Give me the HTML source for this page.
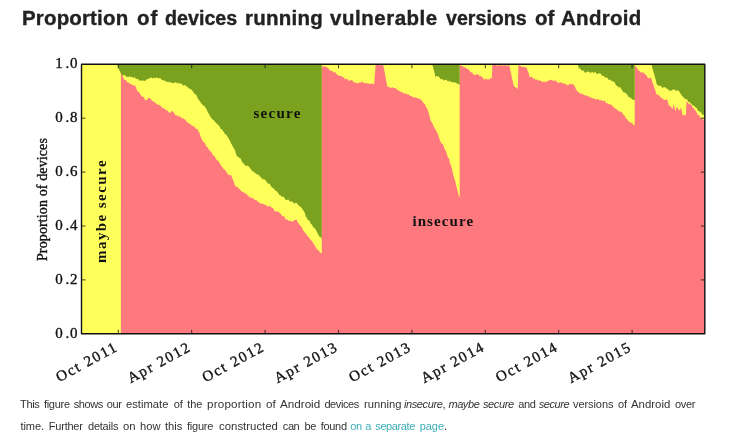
<!DOCTYPE html>
<html><head><meta charset="utf-8"><title>Proportion of devices running vulnerable versions of Android</title>
<style>
html,body{margin:0;padding:0;background:#fff;}
body{width:735px;height:433px;position:relative;overflow:hidden;font-family:"Liberation Sans",sans-serif;color:#222;}
h1{position:absolute;left:0;top:5.5px;margin:0;font-size:19.5px;-webkit-text-stroke:0.35px #222;line-height:24px;height:24px;width:735px;font-weight:bold;white-space:nowrap;color:#222;}
h1 span,p span{position:absolute;top:0;white-space:nowrap;transform-origin:0 0;}
p{position:absolute;left:0;margin:0;font-size:11px;line-height:21.5px;height:21.5px;width:735px;color:#333;white-space:nowrap;}
p.a{top:393.6px;} p.b{top:415.6px;}
p a{color:#3badb7;text-decoration:none;}
</style></head><body>
<h1><span style="left:21.6px;letter-spacing:0.16px;transform:scaleX(1.050)">Proportion</span> <span style="left:136.8px;letter-spacing:1.03px;transform:scaleX(1.050)">of</span> <span style="left:164.7px;letter-spacing:0.00px;transform:scaleX(1.010)">devices</span> <span style="left:244.5px;letter-spacing:0.25px;transform:scaleX(1.050)">running</span> <span style="left:329.8px;letter-spacing:0.51px;transform:scaleX(1.050)">vulnerable</span> <span style="left:445.5px;letter-spacing:0.00px;transform:scaleX(1.007)">versions</span> <span style="left:535.3px;letter-spacing:0.08px;transform:scaleX(1.050)">of</span> <span style="left:560.7px;letter-spacing:0.30px;transform:scaleX(1.050)">Android</span></h1>
<svg width="735" height="433" viewBox="0 0 735 433" style="position:absolute;left:0;top:0">
<rect x="81.5" y="64.3" width="623.3" height="269.5" fill="#ffff5c"/>
<path d="M120.9 333.8 L120.9 71.8 L122.2 75.1 L123.6 78.4 L124.7 80.3 L125.9 80.0 L127.0 81.9 L128.1 82.4 L129.3 82.7 L130.4 84.5 L131.6 84.1 L132.8 85.4 L134.0 85.2 L135.2 85.8 L136.3 88.5 L137.5 91.3 L138.6 91.9 L139.7 93.1 L140.8 94.9 L141.8 96.5 L142.9 96.7 L144.0 97.3 L145.1 100.2 L146.1 100.0 L147.1 100.2 L148.1 97.7 L149.2 98.1 L150.3 98.7 L151.4 99.8 L152.5 101.5 L153.6 101.0 L154.7 102.6 L155.8 103.5 L156.8 103.7 L157.9 104.9 L159.0 104.7 L160.1 105.4 L161.2 106.4 L162.3 108.0 L163.4 108.2 L164.5 108.6 L165.6 109.9 L166.7 110.3 L167.8 110.7 L168.9 112.4 L170.0 112.9 L171.3 111.3 L172.7 111.2 L174.1 112.9 L175.4 115.3 L176.5 115.5 L177.6 115.2 L178.6 117.1 L179.7 115.9 L180.8 117.0 L182.0 118.5 L183.2 118.0 L184.2 119.4 L185.2 119.3 L186.2 121.3 L187.2 122.3 L188.3 122.7 L189.3 124.0 L190.3 123.7 L191.3 125.2 L192.3 125.7 L193.3 126.3 L194.4 126.8 L195.4 128.2 L196.4 129.1 L197.4 128.8 L198.4 131.5 L199.4 132.6 L200.5 136.2 L201.5 138.4 L202.5 140.8 L203.6 142.1 L204.6 142.8 L205.6 144.7 L206.7 146.9 L207.7 147.3 L208.7 149.5 L209.7 150.2 L210.7 151.4 L211.8 152.5 L212.8 155.2 L213.8 155.2 L214.8 156.7 L215.8 158.3 L216.9 160.5 L217.9 160.3 L219.0 162.3 L220.0 163.8 L221.1 165.8 L222.6 167.5 L224.0 169.4 L225.0 169.7 L226.0 171.4 L227.0 172.7 L228.1 174.6 L229.2 175.5 L230.2 174.7 L231.3 175.6 L232.3 178.2 L233.4 180.8 L234.4 183.8 L235.4 186.6 L236.4 186.6 L237.4 186.8 L238.5 188.4 L239.5 189.0 L240.5 190.1 L241.5 191.6 L242.5 191.8 L243.6 192.2 L244.6 193.1 L245.6 194.0 L246.6 193.4 L247.6 195.8 L248.7 196.3 L249.7 197.2 L250.7 197.7 L251.7 197.6 L252.7 198.4 L253.8 198.5 L254.8 200.3 L255.8 199.8 L256.8 200.6 L257.9 201.7 L258.9 202.3 L259.9 203.5 L260.9 203.2 L261.9 203.4 L263.0 204.0 L264.0 204.2 L265.0 205.0 L266.0 204.7 L267.0 206.6 L268.1 206.4 L269.1 205.8 L270.1 206.3 L271.1 207.2 L272.1 208.0 L273.2 208.2 L274.2 210.4 L275.2 211.4 L276.2 211.1 L277.2 211.8 L278.3 211.7 L279.3 212.5 L280.3 213.7 L281.3 214.4 L282.4 216.4 L283.4 216.0 L284.4 216.6 L285.4 219.3 L286.4 219.4 L287.5 219.5 L288.5 221.2 L289.5 220.0 L290.5 220.9 L291.5 221.7 L292.6 221.3 L293.6 220.9 L294.6 219.9 L295.6 220.0 L296.6 219.4 L297.6 222.2 L298.6 223.2 L299.7 225.2 L300.7 225.9 L301.7 227.0 L302.7 229.6 L303.8 231.3 L304.8 232.4 L305.8 233.6 L306.8 235.0 L307.8 236.4 L308.9 236.9 L309.9 239.0 L310.9 240.2 L312.0 241.1 L313.0 242.7 L314.0 244.4 L315.0 245.7 L316.0 247.8 L317.0 249.6 L318.2 249.7 L319.4 251.7 L320.6 252.9 L321.8 253.0 L321.8 333.8 Z M321.8 333.8 L321.8 65.5 L322.9 66.9 L323.9 66.3 L325.0 66.5 L326.0 67.1 L327.1 67.6 L328.1 68.1 L329.2 69.5 L330.2 70.6 L331.3 71.0 L332.3 70.9 L333.4 71.9 L334.4 72.8 L335.4 72.0 L336.4 73.8 L337.4 74.9 L338.5 75.3 L339.5 75.9 L340.5 75.9 L341.6 75.8 L342.6 77.5 L343.6 77.1 L344.6 78.6 L345.6 79.4 L346.7 78.8 L347.7 79.3 L348.7 80.8 L349.7 80.7 L350.7 80.0 L351.8 80.3 L352.8 80.7 L353.8 82.6 L354.8 82.8 L355.8 81.9 L356.8 83.3 L357.8 83.6 L358.9 82.9 L359.9 82.3 L360.9 82.7 L361.9 81.9 L362.9 81.6 L364.0 83.5 L365.0 82.9 L366.0 82.7 L367.0 83.7 L368.1 83.0 L369.1 84.1 L370.1 84.3 L371.1 83.3 L372.1 83.6 L373.2 83.9 L374.2 84.1 L375.6 65.0 L376.7 64.4 L377.8 64.8 L378.9 64.3 L380.0 65.8 L381.1 64.8 L382.2 65.1 L383.3 65.4 L384.6 71.8 L385.8 78.8 L387.3 86.3 L389.2 87.3 L390.3 87.6 L391.4 87.9 L392.4 87.1 L393.5 88.2 L394.6 88.0 L395.7 87.9 L396.7 90.1 L397.7 89.4 L398.7 90.5 L399.8 91.6 L400.8 91.8 L401.8 91.9 L402.8 92.8 L403.8 93.3 L404.8 94.1 L405.8 93.1 L406.9 94.4 L407.9 94.2 L408.9 94.6 L409.9 96.0 L410.9 95.8 L411.9 96.3 L412.9 97.0 L414.0 97.7 L415.0 97.1 L416.0 97.7 L417.0 97.9 L418.1 98.2 L419.1 98.9 L420.1 98.8 L421.1 100.0 L422.1 100.9 L423.2 102.8 L424.2 103.4 L425.2 104.8 L426.2 107.4 L427.2 108.6 L428.3 111.8 L429.3 115.1 L430.6 120.7 L432.0 122.5 L433.4 125.6 L434.5 128.2 L435.6 129.4 L436.7 131.7 L437.9 134.0 L439.1 137.9 L440.3 140.9 L441.5 143.8 L442.9 143.8 L443.9 147.3 L444.9 149.6 L445.9 150.9 L447.0 154.8 L448.0 157.4 L449.0 158.2 L450.0 163.3 L451.1 165.7 L452.1 169.5 L453.1 174.1 L454.1 177.8 L455.1 180.6 L456.1 185.2 L457.5 190.6 L458.8 195.9 L459.7 197.0 L459.7 333.8 Z M459.7 333.8 L459.7 65.5 L460.8 65.6 L461.9 65.8 L463.0 66.5 L464.1 67.8 L465.2 66.9 L466.3 68.4 L467.3 69.0 L468.3 69.0 L469.4 70.5 L470.4 71.9 L471.4 72.6 L472.4 72.5 L473.4 74.7 L474.5 74.6 L475.5 75.3 L476.5 73.9 L477.6 74.6 L478.6 74.5 L479.6 76.5 L480.6 76.1 L481.6 76.4 L482.7 77.6 L483.7 79.2 L484.7 79.6 L485.7 79.0 L486.7 78.6 L487.7 80.0 L488.8 79.1 L489.8 79.2 L490.8 77.8 L491.8 78.5 L492.4 64.3 L493.4 65.2 L494.5 64.8 L495.5 64.3 L496.6 65.9 L497.6 65.3 L498.7 65.7 L499.8 64.3 L500.8 65.9 L501.8 64.4 L502.9 66.0 L503.9 65.3 L505.0 65.1 L506.1 65.6 L507.1 66.4 L508.1 65.1 L509.2 64.9 L510.8 72.1 L512.2 79.0 L514.1 86.5 L515.3 87.3 L516.6 87.7 L517.8 89.2 L518.4 64.9 L519.4 65.5 L520.4 65.8 L521.4 67.1 L522.5 66.5 L523.5 67.3 L524.5 67.0 L525.5 67.6 L526.5 67.3 L527.5 70.5 L528.6 72.7 L529.6 76.9 L530.6 77.0 L531.6 76.8 L532.7 77.9 L533.7 79.3 L534.7 78.2 L535.7 80.1 L536.7 79.6 L537.8 80.0 L538.8 80.9 L539.8 80.3 L540.8 80.8 L541.9 81.4 L542.9 82.2 L543.9 81.2 L544.9 82.0 L545.9 81.7 L546.9 81.4 L548.0 80.8 L549.0 80.6 L550.0 79.9 L551.0 79.9 L552.0 79.6 L553.0 81.2 L554.0 80.5 L555.1 80.6 L556.1 80.7 L557.1 82.5 L558.2 82.8 L559.2 82.7 L560.2 82.2 L561.2 82.4 L562.2 82.9 L563.2 83.5 L564.3 83.2 L565.3 84.2 L566.3 84.1 L567.3 85.4 L568.3 85.2 L569.3 84.2 L570.4 83.4 L571.4 84.7 L572.4 83.2 L573.4 84.9 L574.5 85.8 L575.5 88.2 L576.6 90.0 L577.6 91.7 L578.8 92.2 L580.0 93.8 L581.2 93.3 L582.4 94.3 L583.5 94.5 L584.7 95.6 L585.9 95.2 L587.0 95.5 L588.2 96.4 L589.4 96.5 L590.5 97.5 L591.7 97.7 L592.9 98.4 L594.0 98.5 L595.2 99.0 L596.3 99.7 L597.5 99.0 L598.8 99.3 L600.0 101.0 L601.1 99.6 L602.2 101.0 L603.4 101.2 L604.5 100.3 L605.5 102.5 L606.5 103.2 L607.6 103.3 L608.6 104.1 L609.6 104.8 L610.7 104.1 L611.7 105.4 L612.7 106.0 L613.7 107.4 L614.7 108.1 L615.7 108.9 L616.8 109.2 L617.8 110.6 L618.8 110.9 L619.8 111.7 L620.8 111.6 L621.8 112.3 L622.8 113.7 L623.9 115.3 L624.9 115.9 L625.9 118.5 L627.0 119.1 L628.0 120.4 L629.0 121.6 L630.0 122.4 L631.0 122.8 L632.1 122.5 L633.1 124.9 L634.1 125.0 L634.7 125.3 L634.7 333.8 Z M634.7 333.8 L634.7 65.0 L635.7 66.6 L636.7 67.5 L637.7 69.0 L638.7 70.7 L639.7 70.9 L640.8 72.8 L642.0 72.3 L643.1 72.4 L644.3 73.3 L645.4 74.7 L646.6 75.2 L647.8 77.9 L648.9 78.5 L649.9 77.7 L651.0 77.6 L652.1 80.9 L653.2 84.4 L654.3 87.6 L655.5 91.0 L656.7 94.7 L657.8 94.4 L658.8 95.3 L659.9 96.3 L661.1 98.1 L662.4 98.1 L663.6 99.8 L664.8 99.9 L666.0 99.6 L667.2 99.6 L668.8 105.2 L670.0 106.1 L671.3 106.9 L672.4 109.4 L673.7 104.1 L675.3 111.3 L676.9 106.4 L678.5 109.8 L679.8 110.2 L681.0 107.6 L682.6 114.8 L683.7 115.5 L684.7 114.5 L685.8 116.3 L686.6 100.8 L687.6 102.5 L688.7 103.8 L689.7 103.8 L690.7 104.4 L691.7 105.5 L692.7 108.2 L693.7 108.0 L694.7 110.0 L695.8 110.7 L696.9 113.0 L698.0 115.5 L699.1 115.0 L700.1 117.4 L701.2 117.9 L702.4 119.2 L703.6 119.4 L704.8 119.5 L704.8 333.8 Z" fill="#fd797d"/>
<path d="M117.5 64.3 L117.5 64.5 L119.0 69.5 L120.9 73.6 L122.8 75.7 L124.0 75.1 L125.2 75.4 L126.5 76.7 L127.7 76.9 L128.8 76.7 L130.0 76.5 L131.1 77.0 L132.2 77.1 L133.4 78.3 L134.5 76.7 L135.5 78.6 L136.6 79.2 L137.6 78.2 L138.6 80.3 L139.6 80.3 L140.6 81.1 L141.7 80.3 L142.7 80.8 L143.8 80.5 L144.9 81.3 L145.9 80.1 L147.0 79.2 L148.1 79.0 L149.2 78.4 L150.4 77.7 L151.6 77.6 L152.7 78.8 L153.8 77.5 L155.0 78.6 L156.1 77.4 L157.3 77.7 L158.4 78.4 L159.5 78.0 L160.7 78.6 L161.8 80.0 L162.8 80.3 L163.9 80.6 L164.9 80.6 L165.9 81.6 L166.9 82.1 L167.9 81.7 L169.0 82.5 L170.0 81.6 L171.0 83.1 L172.0 82.6 L173.0 83.3 L174.1 83.1 L175.1 82.5 L176.1 82.1 L177.1 84.0 L178.1 82.5 L179.2 83.5 L180.4 83.6 L181.6 83.8 L182.7 85.0 L183.8 85.8 L185.0 84.7 L186.1 86.4 L187.2 86.6 L188.3 88.1 L189.5 88.7 L190.6 89.1 L191.7 90.0 L192.9 91.3 L194.2 93.8 L195.4 94.2 L196.5 95.2 L197.5 98.1 L198.6 99.8 L200.1 101.5 L201.5 103.7 L202.8 104.9 L204.1 105.8 L205.4 107.4 L206.6 109.3 L207.7 112.1 L208.8 113.8 L210.0 116.0 L211.2 118.1 L212.3 119.2 L213.5 119.9 L214.6 121.2 L215.8 122.8 L216.8 123.7 L217.9 124.8 L218.9 125.4 L219.9 127.0 L220.9 129.5 L221.9 129.0 L223.0 130.9 L224.0 132.3 L225.0 134.3 L226.0 134.5 L227.0 136.1 L228.1 137.6 L229.1 139.4 L230.1 141.0 L231.1 143.6 L232.1 144.9 L233.1 147.5 L234.1 148.3 L235.2 150.9 L236.2 154.8 L237.2 156.4 L238.2 156.7 L239.2 158.1 L240.3 158.1 L241.3 160.1 L242.3 162.4 L243.4 163.3 L244.5 164.5 L245.6 165.9 L246.8 165.4 L248.1 166.1 L249.3 167.1 L250.5 168.7 L251.6 170.0 L252.6 171.4 L253.7 171.8 L254.7 172.6 L255.8 173.7 L256.8 173.9 L257.8 174.9 L258.9 174.7 L259.9 177.0 L260.9 176.7 L261.9 178.9 L262.9 179.2 L264.0 179.3 L265.0 179.7 L266.0 180.8 L267.0 182.6 L268.0 183.7 L269.1 183.6 L270.1 184.5 L271.1 186.4 L272.1 187.6 L273.1 188.2 L274.2 188.9 L275.2 190.7 L276.2 190.5 L277.2 191.9 L278.2 193.1 L279.3 194.9 L280.3 195.1 L281.3 196.4 L282.3 196.4 L283.3 196.7 L284.4 197.6 L285.4 199.8 L286.4 200.1 L287.4 199.7 L288.4 199.6 L289.5 200.9 L290.5 201.7 L291.5 201.6 L292.5 201.7 L293.5 202.9 L294.6 203.8 L295.6 202.8 L296.6 202.9 L297.6 204.3 L298.7 205.3 L299.7 206.7 L300.7 206.6 L301.8 208.6 L302.8 209.4 L303.8 211.2 L304.8 212.9 L305.8 216.7 L306.8 217.7 L307.8 220.1 L308.9 220.3 L309.9 221.6 L310.9 224.0 L312.0 224.4 L313.0 227.1 L314.0 227.7 L315.0 228.6 L316.0 230.2 L317.0 232.1 L318.2 234.4 L319.4 236.8 L320.6 237.0 L321.8 239.5 L321.8 64.3 Z M432.3 64.3 L432.3 64.5 L433.3 68.3 L434.4 71.9 L435.4 77.3 L436.4 76.0 L437.4 76.2 L438.4 76.6 L439.5 77.6 L440.5 78.9 L441.5 79.3 L442.5 79.3 L443.6 80.2 L444.6 80.5 L445.6 79.7 L446.6 79.7 L447.6 81.6 L448.7 81.6 L449.7 80.6 L450.7 82.2 L451.7 81.9 L452.8 82.3 L453.8 82.5 L454.8 82.6 L455.8 82.6 L456.9 83.5 L457.9 84.0 L458.9 84.6 L459.7 84.8 L459.7 64.3 Z M577.6 64.3 L577.6 64.3 L579.0 68.4 L580.7 68.8 L581.7 71.1 L582.8 70.2 L583.8 71.1 L584.8 72.6 L585.8 72.7 L586.8 72.0 L587.8 71.3 L588.8 72.2 L589.8 72.0 L590.9 73.2 L591.9 71.8 L592.9 72.2 L593.9 73.3 L594.9 71.7 L595.9 72.8 L596.9 73.9 L598.0 74.2 L599.0 73.1 L600.0 73.5 L601.1 74.0 L602.2 76.2 L603.4 75.4 L604.5 76.9 L605.5 77.8 L606.5 77.4 L607.6 77.9 L608.6 79.9 L609.6 79.8 L610.7 79.7 L611.7 81.3 L612.7 81.1 L613.7 82.0 L614.7 82.3 L615.7 84.7 L616.8 85.9 L617.8 86.3 L618.8 87.8 L619.8 86.8 L620.8 88.2 L621.8 89.7 L622.8 91.6 L623.9 92.6 L624.9 92.5 L625.9 93.3 L627.0 94.6 L628.0 95.8 L629.0 97.7 L630.0 96.8 L631.0 98.6 L632.1 99.1 L633.1 99.9 L634.1 99.9 L634.7 100.0 L634.7 64.3 Z M651.4 64.3 L651.4 64.3 L652.8 69.8 L654.3 74.4 L655.5 79.1 L656.7 84.3 L657.8 85.0 L659.0 86.3 L660.1 85.5 L661.3 86.3 L662.4 87.9 L663.5 87.2 L664.5 87.2 L665.6 87.5 L666.7 88.8 L667.7 88.7 L668.8 90.4 L669.9 90.5 L670.9 91.0 L672.0 89.9 L673.1 89.6 L674.3 89.6 L675.4 90.4 L676.6 90.8 L677.7 90.3 L678.8 91.1 L680.0 92.8 L681.1 94.5 L682.3 95.9 L683.4 97.3 L684.6 98.6 L685.8 99.3 L687.1 99.3 L688.3 101.9 L689.4 101.8 L690.4 103.3 L691.5 103.8 L692.6 105.5 L693.6 105.4 L694.7 106.5 L695.8 107.5 L696.9 108.3 L698.0 110.8 L699.0 111.2 L700.1 111.7 L701.2 112.8 L702.4 114.9 L703.6 114.7 L704.8 115.6 L704.8 64.3 Z" fill="#7ba21f"/>
<path d="M118.3 333.8 v-4 M118.3 64.3 v4 M191.7 333.8 v-4 M191.7 64.3 v4 M265.1 333.8 v-4 M265.1 64.3 v4 M338.5 333.8 v-4 M338.5 64.3 v4 M411.9 333.8 v-4 M411.9 64.3 v4 M485.3 333.8 v-4 M485.3 64.3 v4 M558.7 333.8 v-4 M558.7 64.3 v4 M632.1 333.8 v-4 M632.1 64.3 v4 M81.5 118.2 h4 M704.8 118.2 h-4 M81.5 172.1 h4 M704.8 172.1 h-4 M81.5 226.0 h4 M704.8 226.0 h-4 M81.5 279.9 h4 M704.8 279.9 h-4" stroke="#111" stroke-width="0.8" fill="none"/>
<rect x="81.5" y="64.3" width="623.3" height="269.5" fill="none" stroke="#111" stroke-width="1.4" stroke-linejoin="round"/>
<g font-family="'Liberation Serif', serif" fill="#111">
<g stroke="#111" stroke-width="0.35">
<text x="77.4" y="68.4" font-size="15" text-anchor="end">1<tspan dx="2.8">.</tspan><tspan dx="0.7">0</tspan></text>
<text x="77.4" y="122.3" font-size="15" text-anchor="end">0<tspan dx="2.8">.</tspan><tspan dx="0.7">8</tspan></text>
<text x="77.4" y="176.2" font-size="15" text-anchor="end">0<tspan dx="2.8">.</tspan><tspan dx="0.7">6</tspan></text>
<text x="77.4" y="230.1" font-size="15" text-anchor="end">0<tspan dx="2.8">.</tspan><tspan dx="0.7">4</tspan></text>
<text x="77.4" y="284.0" font-size="15" text-anchor="end">0<tspan dx="2.8">.</tspan><tspan dx="0.7">2</tspan></text>
<text x="77.4" y="337.9" font-size="15" text-anchor="end">0<tspan dx="2.8">.</tspan><tspan dx="0.7">0</tspan></text>
<text transform="translate(119.0,349.8) rotate(-28.5)" font-size="15" text-anchor="end" letter-spacing="1.65">Oct 2011</text>
<text transform="translate(192.4,349.8) rotate(-28.5)" font-size="15" text-anchor="end" letter-spacing="1.65">Apr 2012</text>
<text transform="translate(265.8,349.8) rotate(-28.5)" font-size="15" text-anchor="end" letter-spacing="1.65">Oct 2012</text>
<text transform="translate(339.2,349.8) rotate(-28.5)" font-size="15" text-anchor="end" letter-spacing="1.65">Apr 2013</text>
<text transform="translate(412.6,349.8) rotate(-28.5)" font-size="15" text-anchor="end" letter-spacing="1.65">Oct 2013</text>
<text transform="translate(486.0,349.8) rotate(-28.5)" font-size="15" text-anchor="end" letter-spacing="1.65">Apr 2014</text>
<text transform="translate(559.4,349.8) rotate(-28.5)" font-size="15" text-anchor="end" letter-spacing="1.65">Oct 2014</text>
<text transform="translate(632.8,349.8) rotate(-28.5)" font-size="15" text-anchor="end" letter-spacing="1.65">Apr 2015</text>
<text transform="translate(46.5,199.5) rotate(-90)" font-size="14" text-anchor="middle" letter-spacing="0.12">Proportion of devices</text>
</g>
<text transform="translate(106.3,211) rotate(-90)" font-size="15" text-anchor="middle" letter-spacing="1.43" font-weight="bold">maybe secure</text>
<text x="277.6" y="118.2" font-size="15" text-anchor="middle" letter-spacing="1.27" font-weight="bold">secure</text>
<text x="443.3" y="225.7" font-size="15" text-anchor="middle" letter-spacing="1.08" font-weight="bold">insecure</text>
</g></svg>
<p class="a"><span style="left:20.1px;letter-spacing:-0.40px;transform:scaleX(1.000)">This</span> <span style="left:43.9px;letter-spacing:-0.28px;transform:scaleX(1.000)">figure</span> <span style="left:73.7px;letter-spacing:-0.40px;transform:scaleX(1.000)">shows</span> <span style="left:106.8px;letter-spacing:-0.35px;transform:scaleX(1.000)">our</span> <span style="left:126.4px;letter-spacing:0.00px;transform:scaleX(1.022)">estimate</span> <span style="left:173.7px;letter-spacing:-0.10px;transform:scaleX(1.000)">of</span> <span style="left:187.3px;letter-spacing:-0.05px;transform:scaleX(1.000)">the</span> <span style="left:207.4px;letter-spacing:0.17px;transform:scaleX(1.060)">proportion</span> <span style="left:266.2px;letter-spacing:0.05px;transform:scaleX(1.060)">of</span> <span style="left:279.9px;letter-spacing:0.00px;transform:scaleX(1.060)">Android</span> <span style="left:324.4px;letter-spacing:-0.40px;transform:scaleX(1.000)">devices</span> <span style="left:363.5px;letter-spacing:0.00px;transform:scaleX(1.019)">running</span> <span style="left:404.0px;letter-spacing:-0.40px;transform:scaleX(1.000)"><i>insecure</i>,</span> <span style="left:448.4px;letter-spacing:-0.40px;transform:scaleX(1.000)"><i>maybe</i></span> <span style="left:483.0px;letter-spacing:-0.40px;transform:scaleX(1.000)"><i>secure</i></span> <span style="left:518.3px;letter-spacing:-0.35px;transform:scaleX(1.000)">and</span> <span style="left:538.7px;letter-spacing:-0.40px;transform:scaleX(1.000)"><i>secure</i></span> <span style="left:573.1px;letter-spacing:-0.09px;transform:scaleX(1.000)">versions</span> <span style="left:618.0px;letter-spacing:-0.20px;transform:scaleX(1.000)">of</span> <span style="left:631.1px;letter-spacing:0.00px;transform:scaleX(1.037)">Android</span> <span style="left:675.1px;letter-spacing:-0.40px;transform:scaleX(1.000)">over</span></p>
<p class="b"><span style="left:20.4px;letter-spacing:-0.05px;transform:scaleX(1.000)">time.</span> <span style="left:48.8px;letter-spacing:-0.22px;transform:scaleX(1.000)">Further</span> <span style="left:88.0px;letter-spacing:-0.23px;transform:scaleX(1.000)">details</span> <span style="left:123.0px;letter-spacing:0.00px;transform:scaleX(1.025)">on</span> <span style="left:140.0px;letter-spacing:0.00px;transform:scaleX(1.015)">how</span> <span style="left:164.8px;letter-spacing:0.00px;transform:scaleX(1.018)">this</span> <span style="left:187.0px;letter-spacing:-0.22px;transform:scaleX(1.000)">figure</span> <span style="left:218.5px;letter-spacing:0.00px;transform:scaleX(1.037)">constructed</span> <span style="left:282.8px;letter-spacing:-0.40px;transform:scaleX(1.000)">can</span> <span style="left:304.5px;letter-spacing:-0.40px;transform:scaleX(1.000)">be</span> <span style="left:320.8px;letter-spacing:-0.33px;transform:scaleX(1.000)">found</span> <span style="left:350.2px;letter-spacing:-0.40px;transform:scaleX(1.000)"><a href="#">on</a></span> <span style="left:365.3px;letter-spacing:-0.40px;transform:scaleX(1.000)"><a href="#">a</a></span> <span style="left:375.3px;letter-spacing:-0.40px;transform:scaleX(1.000)"><a href="#">separate</a></span> <span style="left:419.8px;letter-spacing:-0.08px;transform:scaleX(1.000)"><a href="#">page</a>.</span></p>
</body></html>
